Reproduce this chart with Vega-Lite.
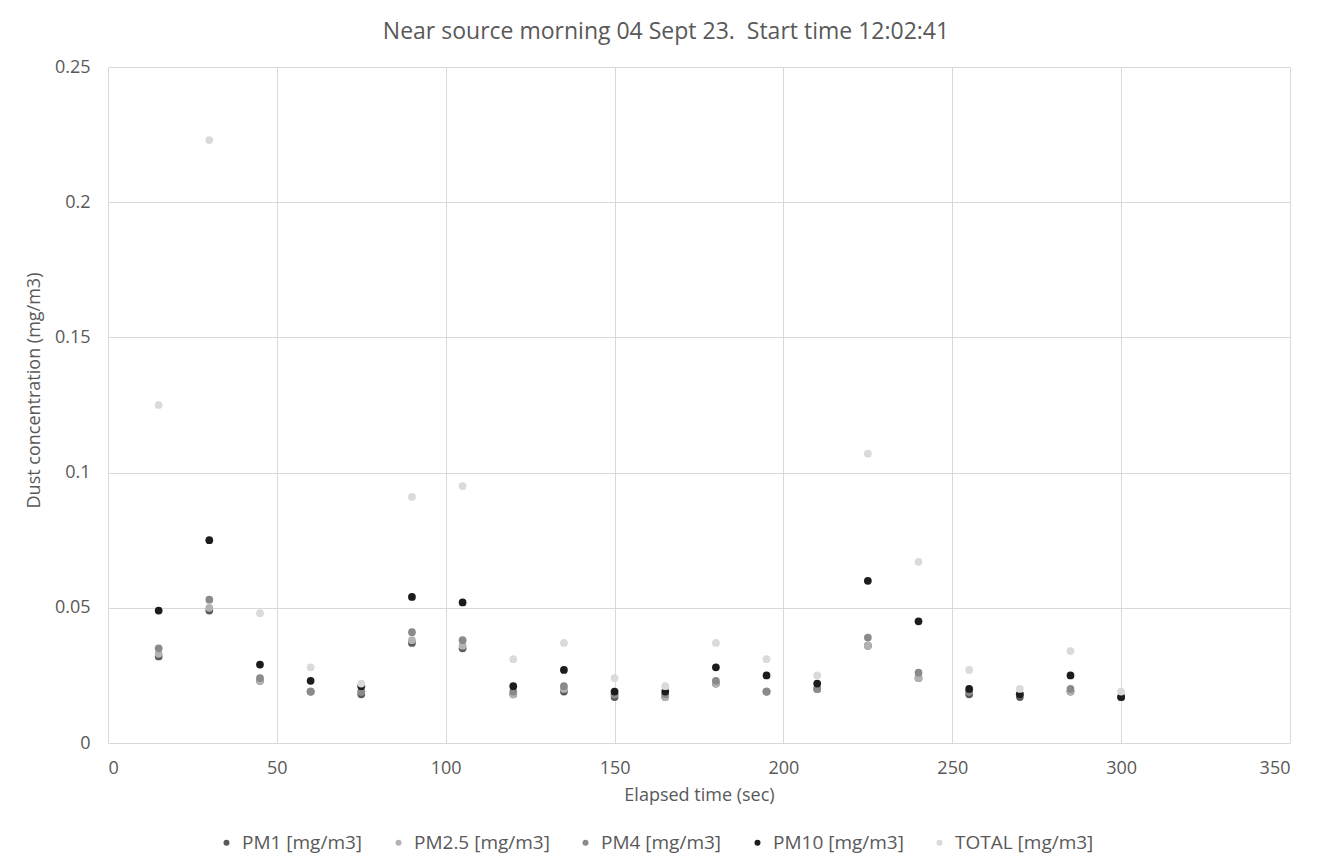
{
  "$schema": "https://vega.github.io/schema/vega-lite/v6.json",
  "width": 1182,
  "height": 676,
  "autosize": "none",
  "padding": {"left": 108, "top": 67, "right": 38, "bottom": 121},
  "background": "white",
  "config": {
    "font": "Open Sans",
    "view": {"stroke": null},
    "axis": {"labelColor": "#595959", "titleColor": "#595959", "labelFontSize": 18, "titleFontSize": 18, "titleFontWeight": "normal", "gridColor": "#d9d9d9", "gridWidth": 1, "ticks": false, "domain": false, "labelFont": "Open Sans", "titleFont": "Open Sans"}
  },
  "title": {"text": "Near source morning 04 Sept 23.\u00a0 Start time 12:02:41", "fontSize": 23, "fontWeight": "normal", "color": "#595959", "font": "Open Sans", "anchor": "middle", "offset": 14, "dx": -33},
  "data": {"values": [
    {"t":15,"s":"PM1 [mg/m3]","v":0.032},{"t":30,"s":"PM1 [mg/m3]","v":0.049},{"t":45,"s":"PM1 [mg/m3]","v":0.023},{"t":60,"s":"PM1 [mg/m3]","v":0.019},{"t":75,"s":"PM1 [mg/m3]","v":0.018},{"t":90,"s":"PM1 [mg/m3]","v":0.037},{"t":105,"s":"PM1 [mg/m3]","v":0.035},{"t":120,"s":"PM1 [mg/m3]","v":0.018},{"t":135,"s":"PM1 [mg/m3]","v":0.019},{"t":150,"s":"PM1 [mg/m3]","v":0.017},{"t":165,"s":"PM1 [mg/m3]","v":0.017},{"t":180,"s":"PM1 [mg/m3]","v":0.022},{"t":195,"s":"PM1 [mg/m3]","v":0.019},{"t":210,"s":"PM1 [mg/m3]","v":0.020},{"t":225,"s":"PM1 [mg/m3]","v":0.036},{"t":240,"s":"PM1 [mg/m3]","v":0.024},{"t":255,"s":"PM1 [mg/m3]","v":0.018},{"t":270,"s":"PM1 [mg/m3]","v":0.017},{"t":285,"s":"PM1 [mg/m3]","v":0.019},{"t":300,"s":"PM1 [mg/m3]","v":0.017},
    {"t":15,"s":"PM2.5 [mg/m3]","v":0.033},{"t":30,"s":"PM2.5 [mg/m3]","v":0.050},{"t":45,"s":"PM2.5 [mg/m3]","v":0.023},{"t":60,"s":"PM2.5 [mg/m3]","v":0.019},{"t":75,"s":"PM2.5 [mg/m3]","v":0.019},{"t":90,"s":"PM2.5 [mg/m3]","v":0.038},{"t":105,"s":"PM2.5 [mg/m3]","v":0.036},{"t":120,"s":"PM2.5 [mg/m3]","v":0.018},{"t":135,"s":"PM2.5 [mg/m3]","v":0.020},{"t":150,"s":"PM2.5 [mg/m3]","v":0.018},{"t":165,"s":"PM2.5 [mg/m3]","v":0.017},{"t":180,"s":"PM2.5 [mg/m3]","v":0.022},{"t":195,"s":"PM2.5 [mg/m3]","v":0.019},{"t":210,"s":"PM2.5 [mg/m3]","v":0.020},{"t":225,"s":"PM2.5 [mg/m3]","v":0.036},{"t":240,"s":"PM2.5 [mg/m3]","v":0.024},{"t":255,"s":"PM2.5 [mg/m3]","v":0.019},{"t":270,"s":"PM2.5 [mg/m3]","v":0.018},{"t":285,"s":"PM2.5 [mg/m3]","v":0.019},{"t":300,"s":"PM2.5 [mg/m3]","v":0.017},
    {"t":15,"s":"PM4 [mg/m3]","v":0.035},{"t":30,"s":"PM4 [mg/m3]","v":0.053},{"t":45,"s":"PM4 [mg/m3]","v":0.024},{"t":60,"s":"PM4 [mg/m3]","v":0.019},{"t":75,"s":"PM4 [mg/m3]","v":0.019},{"t":90,"s":"PM4 [mg/m3]","v":0.041},{"t":105,"s":"PM4 [mg/m3]","v":0.038},{"t":120,"s":"PM4 [mg/m3]","v":0.019},{"t":135,"s":"PM4 [mg/m3]","v":0.021},{"t":150,"s":"PM4 [mg/m3]","v":0.018},{"t":165,"s":"PM4 [mg/m3]","v":0.018},{"t":180,"s":"PM4 [mg/m3]","v":0.023},{"t":195,"s":"PM4 [mg/m3]","v":0.019},{"t":210,"s":"PM4 [mg/m3]","v":0.020},{"t":225,"s":"PM4 [mg/m3]","v":0.039},{"t":240,"s":"PM4 [mg/m3]","v":0.026},{"t":255,"s":"PM4 [mg/m3]","v":0.019},{"t":270,"s":"PM4 [mg/m3]","v":0.018},{"t":285,"s":"PM4 [mg/m3]","v":0.020},{"t":300,"s":"PM4 [mg/m3]","v":0.017},
    {"t":15,"s":"PM10 [mg/m3]","v":0.049},{"t":30,"s":"PM10 [mg/m3]","v":0.075},{"t":45,"s":"PM10 [mg/m3]","v":0.029},{"t":60,"s":"PM10 [mg/m3]","v":0.023},{"t":75,"s":"PM10 [mg/m3]","v":0.021},{"t":90,"s":"PM10 [mg/m3]","v":0.054},{"t":105,"s":"PM10 [mg/m3]","v":0.052},{"t":120,"s":"PM10 [mg/m3]","v":0.021},{"t":135,"s":"PM10 [mg/m3]","v":0.027},{"t":150,"s":"PM10 [mg/m3]","v":0.019},{"t":165,"s":"PM10 [mg/m3]","v":0.019},{"t":180,"s":"PM10 [mg/m3]","v":0.028},{"t":195,"s":"PM10 [mg/m3]","v":0.025},{"t":210,"s":"PM10 [mg/m3]","v":0.022},{"t":225,"s":"PM10 [mg/m3]","v":0.060},{"t":240,"s":"PM10 [mg/m3]","v":0.045},{"t":255,"s":"PM10 [mg/m3]","v":0.020},{"t":270,"s":"PM10 [mg/m3]","v":0.018},{"t":285,"s":"PM10 [mg/m3]","v":0.025},{"t":300,"s":"PM10 [mg/m3]","v":0.017},
    {"t":15,"s":"TOTAL [mg/m3]","v":0.125},{"t":30,"s":"TOTAL [mg/m3]","v":0.223},{"t":45,"s":"TOTAL [mg/m3]","v":0.048},{"t":60,"s":"TOTAL [mg/m3]","v":0.028},{"t":75,"s":"TOTAL [mg/m3]","v":0.022},{"t":90,"s":"TOTAL [mg/m3]","v":0.091},{"t":105,"s":"TOTAL [mg/m3]","v":0.095},{"t":120,"s":"TOTAL [mg/m3]","v":0.031},{"t":135,"s":"TOTAL [mg/m3]","v":0.037},{"t":150,"s":"TOTAL [mg/m3]","v":0.024},{"t":165,"s":"TOTAL [mg/m3]","v":0.021},{"t":180,"s":"TOTAL [mg/m3]","v":0.037},{"t":195,"s":"TOTAL [mg/m3]","v":0.031},{"t":210,"s":"TOTAL [mg/m3]","v":0.025},{"t":225,"s":"TOTAL [mg/m3]","v":0.107},{"t":240,"s":"TOTAL [mg/m3]","v":0.067},{"t":255,"s":"TOTAL [mg/m3]","v":0.027},{"t":270,"s":"TOTAL [mg/m3]","v":0.020},{"t":285,"s":"TOTAL [mg/m3]","v":0.034},{"t":300,"s":"TOTAL [mg/m3]","v":0.019}
  ]},
  "mark": {"type": "circle", "size": 60, "opacity": 1},
  "encoding": {
    "x": {"field": "t", "type": "quantitative", "title": "Elapsed time (sec)", "scale": {"domain": [0, 350], "nice": false}, "axis": {"values": [0,50,100,150,200,250,300,350], "labelPadding": 16, "titlePadding": 9}},
    "y": {"field": "v", "type": "quantitative", "title": "Dust concentration (mg/m3)", "scale": {"domain": [0, 0.25], "nice": false}, "axis": {"values": [0,0.05,0.1,0.15,0.2,0.25], "format": "~g", "labelPadding": 18, "titlePadding": 11, "titleY": 323}},
    "color": {"field": "s", "type": "nominal", "sort": ["PM1 [mg/m3]","PM2.5 [mg/m3]","PM4 [mg/m3]","PM10 [mg/m3]","TOTAL [mg/m3]"],
      "scale": {"domain": ["PM1 [mg/m3]","PM2.5 [mg/m3]","PM4 [mg/m3]","PM10 [mg/m3]","TOTAL [mg/m3]"], "range": ["#5a5a5a","#b3b3b3","#8a8a8a","#1c1c1c","#dadada"]},
      "legend": {"title": null, "orient": "none", "direction": "horizontal", "legendX": 109, "legendY": 766, "labelFontSize": 19, "labelColor": "#595959", "labelFont": "Open Sans", "symbolSize": 36, "symbolType": "circle", "columnPadding": 26, "labelOffset": 6, "symbolOpacity": 1}}
  }
}
